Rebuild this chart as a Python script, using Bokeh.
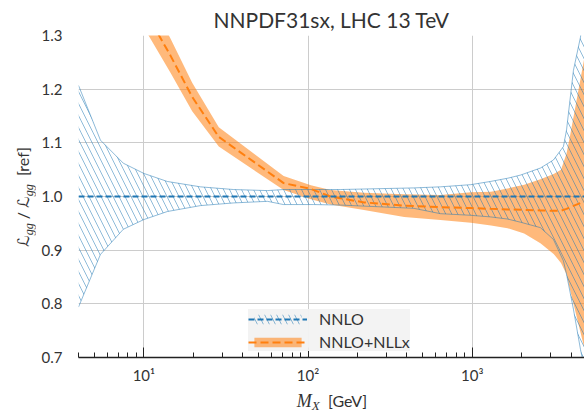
from bokeh.plotting import figure
from bokeh.models import Range1d, FixedTicker, Legend, LegendItem, Div
from bokeh.layouts import row, column
from bokeh.embed import file_html
from bokeh.resources import INLINE

# ---------------- data ----------------
nnlo_mass = [4.0, 5.44, 7.5, 10, 13.9, 22.1, 35.1, 56.6, 70.8, 108, 158, 440, 640,
             975, 1290, 1640, 1970, 2600, 3120, 3590, 3750, 4130, 4560, 4820]
nnlo_high = [1.207, 1.105, 1.062, 1.043, 1.028, 1.018, 1.013, 1.011, 1.013, 1.013, 1.013,
             1.016, 1.018, 1.022, 1.028, 1.034, 1.040, 1.053, 1.068, 1.093, 1.124,
             1.235, 1.297, 1.36]
nnlo_low = [0.794, 0.892, 0.939, 0.957, 0.972, 0.983, 0.988, 0.991, 0.985, 0.985, 0.984,
            0.978, 0.968, 0.965, 0.962, 0.958, 0.952, 0.942, 0.92, 0.88, 0.855,
            0.79, 0.715, 0.68]
nnlo_line_mass = [4.0, 4820]
nnlo_central = [1.0, 1.0]

nll_mass = [4, 7.5, 10, 14.5, 19.7, 28.6, 71, 104, 137, 219, 385, 640, 980, 1300,
            1640, 2070, 2600, 3130, 3470, 3750, 3950, 4824, 5200]
nll_central = [1.70, 1.45, 1.35, 1.263, 1.1855, 1.111, 1.025, 1.014, 1.000, 0.989,
               0.983, 0.980, 0.9785, 0.977, 0.976, 0.975, 0.974, 0.9735, 0.9735,
               0.977, 0.980, 0.991, 0.996]
nll_high = [1.77, 1.50, 1.385, 1.295, 1.212, 1.129, 1.038, 1.021, 1.012, 1.007, 1.004,
            1.003, 1.008, 1.009, 1.015, 1.022, 1.032, 1.042, 1.05, 1.08, 1.115,
            1.26, 1.31]
nll_low = [1.63, 1.40, 1.315, 1.231, 1.159, 1.093, 1.012, 0.995, 0.985, 0.975, 0.962,
           0.956, 0.951, 0.946, 0.941, 0.931, 0.913, 0.893, 0.876, 0.855, 0.825,
           0.716, 0.66]

x_ticks = [10, 100, 1000]
x_tick_labels = ["10\u00b9", "10\u00b2", "10\u00b3"]
x_minor_ticks = [4, 5, 6, 7, 8, 9, 20, 30, 40, 50, 60, 70, 80, 90,
                 200, 300, 400, 500, 600, 700, 800, 900, 2000, 3000, 4000]
y_ticks = [0.7, 0.8, 0.9, 1.0, 1.1, 1.2, 1.3]
y_tick_labels = ["0.7", "0.8", "0.9", "1.0", "1.1", "1.2", "1.3"]

title_text = "NNPDF31sx, LHC 13 TeV"
legend_labels = ["NNLO", "NNLO+NLLx"]

# ---------------- styling ----------------
FONT = "Lato"
TXT = "#333333"
BLUE = "#1f77b4"
ORANGE = "#ff7f0e"

LEFT_W = 35       # width of the y-label strip
BOTTOM_H = 30     # height of the x-label strip
W, H = 584, 416

p = figure(width=W - LEFT_W, height=H - BOTTOM_H, x_axis_type="log",
           x_range=Range1d(4, 4824), y_range=Range1d(0.7, 1.3),
           output_backend="svg", toolbar_location=None,
           min_border_left=78 - LEFT_W, min_border_right=0, min_border_top=35,
           min_border_bottom=358 - (H - BOTTOM_H) + BOTTOM_H + (H - BOTTOM_H) - 358,
           title=title_text)
p.min_border_bottom = (H - BOTTOM_H) - 358
p.outline_line_color = None
p.background_fill_color = "white"
p.border_fill_color = "white"

p.title.text_font = FONT
p.title.text_font_size = "21px"
p.title.text_font_style = "normal"
p.title.text_color = TXT
p.title.align = "center"
p.title.standoff = 8

xt = FixedTicker(ticks=x_ticks, minor_ticks=x_minor_ticks)
xa = p.xaxis[0]
xa.ticker = xt
xa.major_label_overrides = dict(zip(x_ticks, x_tick_labels))
xa.axis_line_color = "#222222"
xa.axis_line_width = 1.3
xa.major_tick_in = 10
xa.major_tick_out = 0
xa.minor_tick_in = 5
xa.minor_tick_out = 0
xa.major_tick_line_color = "#222222"
xa.minor_tick_line_color = "#222222"
xa.major_label_standoff = 8
xa.major_label_text_font = FONT
xa.major_label_text_font_size = "15px"
xa.major_label_text_color = TXT

yt = FixedTicker(ticks=y_ticks)
ya = p.yaxis[0]
ya.ticker = yt
ya.major_label_overrides = dict(zip(y_ticks, y_tick_labels))
ya.axis_line_color = None
ya.major_tick_line_color = None
ya.minor_tick_line_color = None
ya.major_label_standoff = 10
ya.major_label_text_font = FONT
ya.major_label_text_font_size = "15px"
ya.major_label_text_color = TXT

p.xgrid.ticker = xt
p.ygrid.ticker = yt
p.xgrid.grid_line_color = "#cccccc"
p.ygrid.grid_line_color = "#cccccc"

# ---------------- glyphs ----------------
r_nll_band = p.varea(x=nll_mass, y1=nll_low, y2=nll_high,
                     fill_color=ORANGE, fill_alpha=0.55)
r_nnlo_band = p.varea(x=nnlo_mass, y1=nnlo_low, y2=nnlo_high,
                      fill_alpha=0, hatch_pattern="\\", hatch_color=BLUE,
                      hatch_alpha=0.5, hatch_weight=1, hatch_scale=12)
p.line(nnlo_mass, nnlo_high, line_color=BLUE, line_alpha=0.5, line_width=1)
p.line(nnlo_mass, nnlo_low, line_color=BLUE, line_alpha=0.5, line_width=1)
r_nll_line = p.line(nll_mass, nll_central, line_color=ORANGE, line_width=2,
                    line_dash="8 4")
r_nnlo_line = p.line(nnlo_line_mass, nnlo_central, line_color=BLUE, line_width=2,
                     line_dash="6 3")

legend = Legend(items=[
    LegendItem(label=legend_labels[0], renderers=[r_nnlo_band, r_nnlo_line]),
    LegendItem(label=legend_labels[1], renderers=[r_nll_band, r_nll_line]),
], location=(170, 6))
legend.background_fill_color = "#f2f2f2"
legend.background_fill_alpha = 0.95
legend.border_line_color = None
legend.padding = 4
legend.spacing = 4
legend.margin = 0
legend.glyph_width = 59
legend.glyph_height = 12
legend.label_standoff = 12
legend.label_height = 18
legend.label_text_font = FONT
legend.label_text_font_size = "16px"
legend.label_text_color = TXT
p.add_layout(legend)

# ---------------- axis labels as rich text (subscripts) ----------------
sub_style = ("font-family:'Liberation Serif';font-style:italic;font-size:12px;"
             "vertical-align:-4px")
cal = "<span style=\"font-family:'DejaVu Sans';font-size:16px\">\u2112</span>"
ylabel_html = (
    '<div style="position:relative;width:%dpx;height:%dpx;">' % (LEFT_W, H)
    + '<span style="position:absolute;left:25px;top:197px;'
      'transform:translate(-50%,-50%) rotate(-90deg);white-space:nowrap;'
      'line-height:1;font-family:Lato,\'DejaVu Sans\';font-size:16px;color:#333333">'
    + cal + '<sub style="%s">gg</sub> / ' % sub_style
    + cal + '<sub style="%s">gg</sub>&nbsp;&nbsp;[ref]' % sub_style
    + '</span></div>')

xlabel_html = (
    '<div style="position:relative;width:%dpx;height:%dpx;">' % (W - LEFT_W, BOTTOM_H)
    + '<span style="position:absolute;left:297px;top:16px;'
      'transform:translate(-50%,-50%);white-space:nowrap;line-height:1;'
      'font-family:Lato;font-size:16px;color:#333333">'
    + "<i style=\"font-family:'Liberation Serif';font-size:18px\">M</i>"
    + "<sub style=\"font-family:'Liberation Serif';font-style:italic;font-size:13px;"
      "vertical-align:-3px\">X</sub>&nbsp;&nbsp;[GeV]"
    + '</span></div>')

ylabel_div = Div(text=ylabel_html, width=LEFT_W, height=H, margin=0)
xlabel_div = Div(text=xlabel_html, width=W - LEFT_W, height=BOTTOM_H, margin=0)

layout = row(ylabel_div, column(p, xlabel_div, spacing=0), spacing=0)

open("out.html", "w").write(file_html(layout, INLINE))
